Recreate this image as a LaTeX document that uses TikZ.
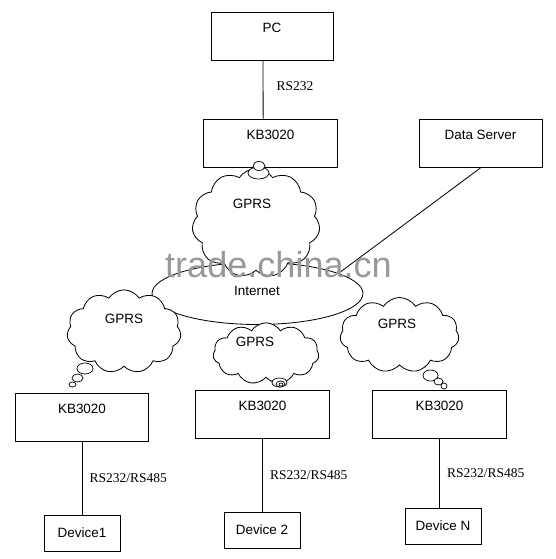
\documentclass[tikz,border=0pt]{standalone}
\usepackage{fontspec}
\setmainfont{Liberation Sans}
\newfontfamily\rsfont{Liberation Serif}
\usetikzlibrary{shapes.geometric,shapes.symbols,positioning}
\tikzset{
    unit/.style={
        draw,line width=.7pt,
        minimum width=40mm,minimum height=14.4mm,
        inner ysep=3.6mm,text height=2.4mm,text depth=4.8mm,
        font=\fontsize{11.5}{13}\selectfont
    },
    device/.style={
        draw,line width=.7pt,
        minimum width=22.8mm,minimum height=10.8mm,
        font=\fontsize{11.5}{13}\selectfont
    },
    gprs/.style={
        cloud,cloud puffs=11,cloud puff arc=115,
        draw,fill=white,line width=.7pt
    },
    tail/.style={draw,fill=white,line width=.6pt},
    lbl/.style={font=\fontsize{11.5}{13}\selectfont},
    rs/.style={right,xshift=1mm,font=\rsfont\fontsize{11.5}{13}\selectfont},
    wmark/.style={text=black!40,inner sep=0pt,font=\fontsize{30.8}{32}\selectfont},
}

\begin{document}
\begin{tikzpicture}[x=.3mm,y=-.3mm,line width=.7pt]
    \useasboundingbox (0,0) rectangle (555,559);

    % top row
    \node[unit,minimum width=36.6mm] (pc) at (272,36) {PC};
    \node[unit] (kbtop) at (270.5,143) {KB3020};
    \node[unit,minimum width=36.9mm] (server) at (480.5,143.5) {Data Server};
    \draw ([xshift=-2.7mm]pc.south) -- node[rs,xshift=1.8mm,yshift=.9mm] (rs0) {RS232} ([xshift=-2.2mm]kbtop.north);

    % internet and the gprs clouds
    \node[ellipse,draw,minimum width=63.3mm,minimum height=18.6mm] (inet) at (257.5,293.5) {};
    \node[lbl,inner sep=0pt] (inettext) at (257,291) {Internet};
    \draw (server.south) -- (inet.14.5);

    \foreach \name/\x/\y/\w/\h/\asp in {c0/256/223/38.4/32.7/1.35, c1/124/331.5/34.2/25/1.48,
        c2/266/353.5/31.8/18.4/1.86, c3/399.5/335/35.7/22.5/1.61}
    \node[gprs,minimum width=\w mm,minimum height=\h mm,aspect=\asp] (\name) at (\x,\y) {};
    \foreach \name/\x/\y in {g0/252/204, g1/124/319, g2/255/342, g3/397/324}
    \node[lbl] (\name) at (\x,\y) {GPRS};

    % thought bubbles
    \foreach \x/\y/\a/\b in {258.5/173/10.5/6, 259/166/6/4.5,
        85/368.5/8/5.5, 77.5/378/5.5/4, 72.5/384.5/3.5/2.5,
        279.5/382.5/7.5/4.5, 280.5/384/4.5/3, 281/384.5/2/1.5,
        430.5/375.5/7.5/5.5, 438.5/381.5/4.5/3.5, 444/386/3/3}
    \draw[tail] (\x,\y) ellipse [x radius=\a,y radius=\b];

    % bottom row
    \foreach \n/\x/\y in {1/82/417.5, 2/262.5/414.5, 3/439.5/414.5}
    \node[unit] (kb\n) at (\x,\y) {KB3020};
    \foreach \n/\x/\y/\t in {1/82/533/Device1, 2/262/530/Device 2, 3/443/526/Device N}
    \node[device] (dev\n) at (\x,\y) {\t};
    \foreach \n in {1,2,3}
    \draw (kb\n.south) -- node[rs] (rs\n) {RS232/RS485} (kb\n.south |- dev\n.north);

    \node[wmark,anchor=base] (wm) at (278.5,277) {trade.china.cn};
\end{tikzpicture}
\end{document}
